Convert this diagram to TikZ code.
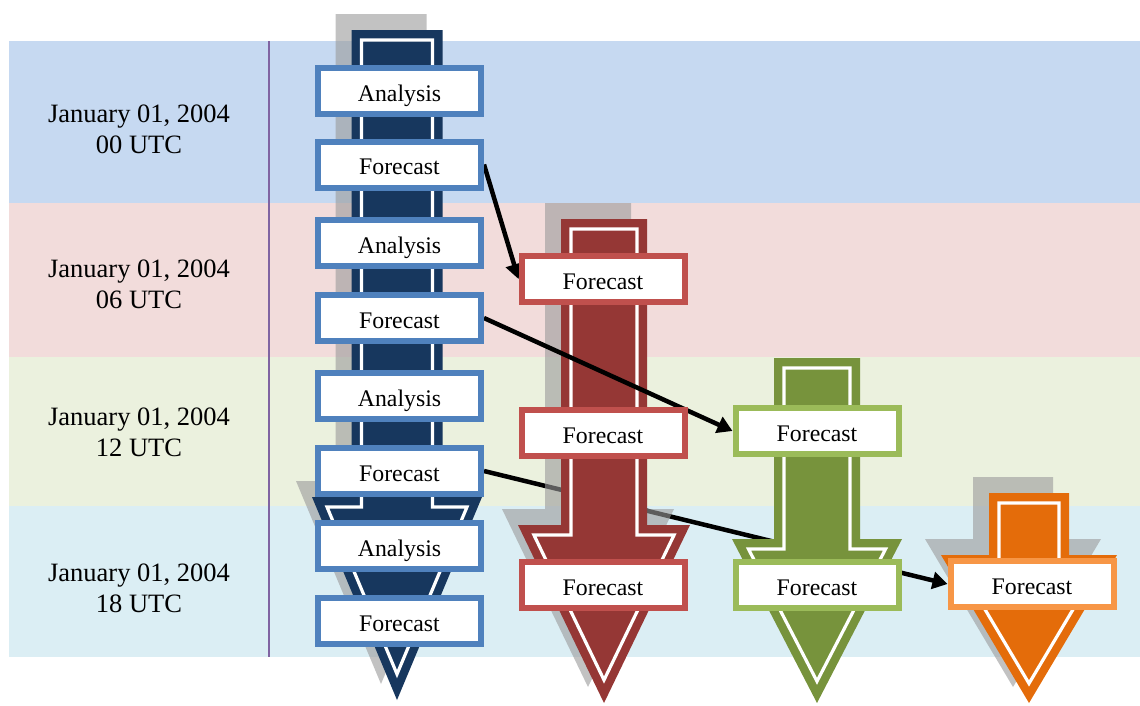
\documentclass[tikz,border=0pt]{standalone}
\usepackage{fontspec}
\setmainfont{Liberation Serif}
\usetikzlibrary{arrows.meta}
\definecolor{bandBlue}{HTML}{C6D9F1}
\definecolor{bandRed}{HTML}{F2DCDB}
\definecolor{bandGreen}{HTML}{EBF1DE}
\definecolor{bandCyan}{HTML}{DBEEF4}
\definecolor{sepLine}{HTML}{8064A2}
\definecolor{boxBlue}{HTML}{4F81BD}
\definecolor{boxRed}{HTML}{C0504D}
\definecolor{boxGreen}{HTML}{9BBB59}
\definecolor{boxOrange}{HTML}{F79646}
\definecolor{arrBlue}{HTML}{17375E}
\definecolor{arrRed}{HTML}{953735}
\definecolor{arrGreen}{HTML}{77933C}
\definecolor{arrOrange}{HTML}{E46C0A}
\definecolor{shadowGray}{HTML}{9A9A9A}
\pgfdeclarelayer{bg}
\pgfdeclarelayer{lowline}
\pgfdeclarelayer{arrowlayer}
\pgfdeclarelayer{highline}
\pgfsetlayers{bg,lowline,arrowlayer,highline,main}
\tikzset{
  box/.style={draw=#1, line width=6pt, fill=white, minimum width=163pt,
    minimum height=46pt, inner sep=0pt, text height=20pt, text depth=0pt,
    font=\fontsize{23.8}{28}\selectfont},
  datelbl/.style={align=center, font=\fontsize{26.5}{31}\selectfont},
  link/.style={line width=4.5pt, -{Triangle[length=15pt,width=17pt]}},
  shadowfill/.style={fill=shadowGray, opacity=0.6},
  innerline/.style={draw=white, line width=3.2pt},
}
\newcommand\insetd{10}
% #1 cx, #2 top, #3 half shaft width, #4 shoulder y, #5 head half width, #6 tip y, #7 options
\newcommand\dnshape[7]{%
  \path[#7] ({(#1)-(#3)},#2) -- ({(#1)-(#3)},#4) -- ({(#1)-(#5)},#4) -- (#1,#6)
    -- ({(#1)+(#5)},#4) -- ({(#1)+(#3)},#4) -- ({(#1)+(#3)},#2) -- cycle;}
% #1 cx, #2 top, #3 w, #4 sh, #5 H, #6 tip, #7 colour, #8 shadow (1 or 0)
\newcommand\dnarrow[8]{%
  \ifnum#8=1
    \dnshape{#1-16}{#2-16}{#3}{#4-16}{#5}{#6-16}{shadowfill}%
  \fi
  \dnshape{#1}{#2}{#3}{#4}{#5}{#6}{fill=#7}%
  \pgfmathsetmacro\dL{#6-#4}%
  \pgfmathsetmacro\dS{100*sqrt((#5/100)*(#5/100)+(\dL/100)*(\dL/100))}%
  \pgfmathsetmacro\dHi{#5-\insetd*(#5+\dS)/\dL}%
  \pgfmathsetmacro\dTi{#6-\insetd*\dS/(#5)}%
  \dnshape{#1}{#2+\insetd}{#3-\insetd}{#4+\insetd}{\dHi}{\dTi}{innerline}%
}
\begin{document}
\begin{tikzpicture}[x=1pt,y=-1pt]
\useasboundingbox (0,0) rectangle (1140,705);
% boxes (main layer, on top)
\node[box=boxBlue] (ba1) at (399.5,91) {Analysis};
\node[box=boxBlue] (bf1) at (399.5,164.5) {Forecast};
\node[box=boxBlue] (ba2) at (399.5,243) {Analysis};
\node[box=boxBlue] (bf2) at (399.5,318) {Forecast};
\node[box=boxBlue] (ba3) at (399.5,396) {Analysis};
\node[box=boxBlue] (bf3) at (399.5,471) {Forecast};
\node[box=boxBlue] (ba4) at (399.5,546) {Analysis};
\node[box=boxBlue] (bf4) at (399.5,621) {Forecast};
\node[box=boxRed] (rf1) at (603,279) {Forecast};
\node[box=boxRed] (rf2) at (603,433) {Forecast};
\node[box=boxRed] (rf3) at (603,585) {Forecast};
\node[box=boxGreen] (gf1) at (817,431) {Forecast};
\node[box=boxGreen] (gf2) at (817,585) {Forecast};
\node[box=boxOrange] (of1) at (1032,584) {Forecast};
\begin{pgfonlayer}{bg}
  \fill[bandBlue] (9,41) rectangle (1140,203);
  \fill[bandRed] (9,203) rectangle (1140,357);
  \fill[bandGreen] (9,357) rectangle (1140,505.5);
  \fill[bandCyan] (9,505.5) rectangle (1140,657);
  \coordinate (septop) at (269,41);
  \coordinate (sepbot) at (269,657);
  \draw[sepLine, line width=2pt] (septop) -- (sepbot);
  \node[datelbl] (d1) at (139,129) {January 01, 2004\\00 UTC};
  \node[datelbl] (d2) at (139,284) {January 01, 2004\\06 UTC};
  \node[datelbl] (d3) at (139,432) {January 01, 2004\\12 UTC};
  \node[datelbl] (d4) at (139,588) {January 01, 2004\\18 UTC};
\end{pgfonlayer}
\begin{pgfonlayer}{lowline}
  \draw[link] (bf3.east) -- (of1.west);
\end{pgfonlayer}
\begin{pgfonlayer}{arrowlayer}
  \dnarrow{397}{30}{45.5}{497}{85}{700}{arrBlue}{1}
  \dnarrow{604}{219}{43}{525}{86}{703}{arrRed}{1}
  \dnarrow{817}{358}{43}{539}{85}{703}{arrGreen}{0}
  \dnarrow{1029}{493}{40}{555}{88}{703}{arrOrange}{1}
\end{pgfonlayer}
\begin{pgfonlayer}{highline}
  \draw[link] (bf1.east) -- (rf1.west);
  \draw[link] (bf2.east) -- (gf1.west);
\end{pgfonlayer}
\end{tikzpicture}
\end{document}
